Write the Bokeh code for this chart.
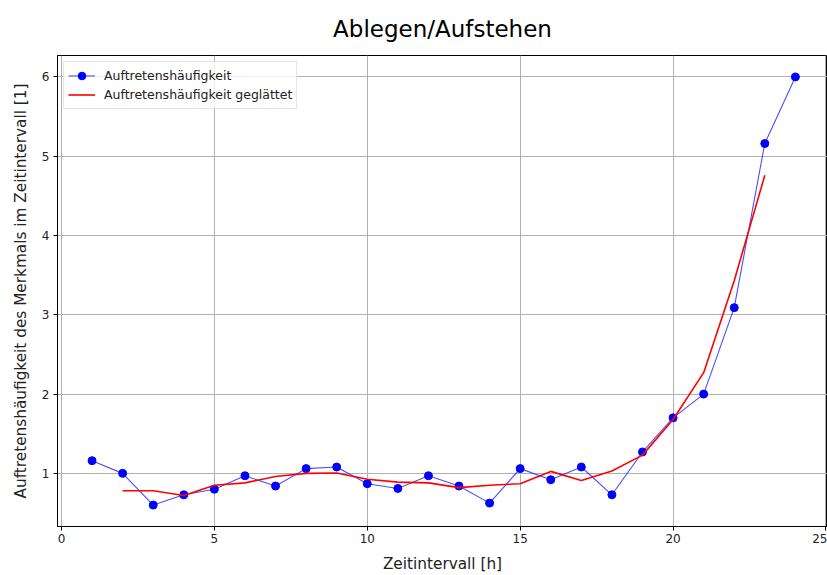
from bokeh.plotting import figure
from bokeh.models import Range1d, FixedTicker, Legend, LegendItem
from bokeh.embed import file_html
from bokeh.resources import INLINE

# Data
hours = [1, 2, 3, 4, 5, 6, 7, 8, 9, 10, 11, 12, 13, 14, 15, 16, 17, 18, 19, 20, 21, 22, 23, 24]
freq = [1.16, 1.0, 0.6, 0.73, 0.8, 0.97, 0.84, 1.06, 1.08, 0.87, 0.81, 0.97,
        0.84, 0.625, 1.06, 0.92, 1.08, 0.73, 1.27, 1.70, 2.0, 3.09, 5.16, 6.0]
smooth_hours = [2, 3, 4, 5, 6, 7, 8, 9, 10, 11, 12, 13, 14, 15, 16, 17, 18, 19, 20, 21, 22, 23]
smooth = [0.78, 0.78, 0.72, 0.85, 0.88, 0.96, 1.0, 1.005, 0.925, 0.89, 0.88,
          0.82, 0.85, 0.87, 1.025, 0.91, 1.03, 1.23, 1.68, 2.27, 3.43, 4.76]
x_ticks = [0, 5, 10, 15, 20, 25]
y_ticks = [1, 2, 3, 4, 5, 6]

FONT = "DejaVu Sans"

p = figure(width=827, height=575, output_backend="svg", toolbar_location=None,
           x_range=Range1d(-0.13, 25.05), y_range=Range1d(0.33, 6.27),
           min_border_left=57, min_border_right=0, min_border_top=55, min_border_bottom=46)

p.title.text = "Ablegen/Aufstehen"
p.title.align = "center"
p.title.text_font = FONT
p.title.text_font_size = "23px"
p.title.text_font_style = "normal"
p.title.text_color = "black"
p.title.standoff = 27

p.outline_line_color = "black"
p.outline_line_width = 1

p.xaxis.ticker = FixedTicker(ticks=x_ticks)
p.yaxis.ticker = FixedTicker(ticks=y_ticks)
for ax in (p.xaxis, p.yaxis):
    ax.axis_line_color = "black"
    ax.major_tick_line_color = "black"
    ax.major_tick_out = 4
    ax.major_tick_in = 0
    ax.minor_tick_line_color = None
    ax.major_label_text_font = FONT
    ax.major_label_text_font_size = "12px"
    ax.major_label_text_color = "#222222"
    ax.axis_label_text_font = FONT
    ax.axis_label_text_font_size = "15.3px"
    ax.axis_label_text_font_style = "normal"
    ax.axis_label_text_color = "#222222"

p.xaxis.major_label_standoff = 3
p.yaxis.major_label_standoff = 4
p.xaxis.axis_label_standoff = 9
p.yaxis.axis_label_standoff = 9

p.xaxis.axis_label = "Zeitintervall [h]"
p.yaxis.axis_label = "Auftretenshäufigkeit des Merkmals im Zeitintervall [1]"

p.grid.grid_line_color = "#b0b0b0"
p.grid.grid_line_width = 1

bl = p.line(hours, freq, line_color="blue", line_alpha=0.7, line_width=1.1)
bp = p.scatter(hours, freq, size=8, fill_color="blue", line_color="blue")
rl = p.line(smooth_hours, smooth, line_color="red", line_width=1.6)

legend = Legend(items=[
    LegendItem(label="Auftretenshäufigkeit", renderers=[bl, bp]),
    LegendItem(label="Auftretenshäufigkeit geglättet", renderers=[rl]),
], location="top_left")
legend.margin = 6
legend.padding = 4
legend.spacing = 0
legend.label_height = 19
legend.glyph_height = 19
legend.glyph_width = 27
legend.label_standoff = 9
legend.label_text_font = FONT
legend.label_text_font_size = "12.5px"
legend.label_text_color = "#222222"
legend.border_line_color = "#cccccc"
legend.background_fill_alpha = 0.8
p.add_layout(legend)

open("out.html", "w").write(file_html(p, INLINE))
